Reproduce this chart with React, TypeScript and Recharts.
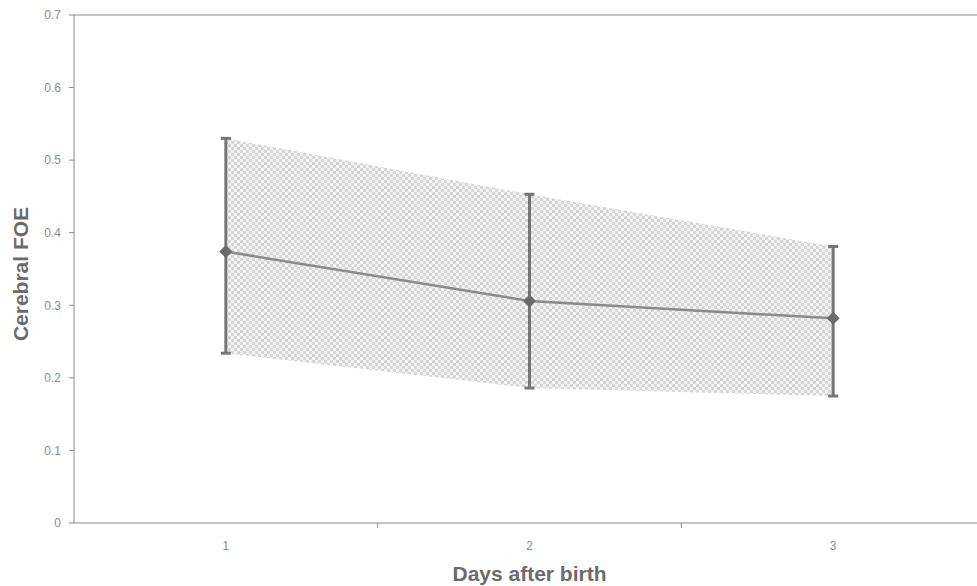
import React from "react";
import {
  Area,
  ComposedChart,
  ErrorBar,
  Label,
  Line,
  ReferenceLine,
  XAxis,
  YAxis,
} from "recharts";

const days = [1, 2, 3];
const meanFoe = [0.374, 0.306, 0.282];
const upperFoe = [0.53, 0.453, 0.381];
const lowerFoe = [0.234, 0.186, 0.175];
const yTicks = [0, 0.1, 0.2, 0.3, 0.4, 0.5, 0.6, 0.7];
const xTicks = [1, 1.5, 2, 2.5, 3];

const data = days.map((d, i) => ({
  day: d,
  mean: meanFoe[i],
  band: [lowerFoe[i], upperFoe[i]],
  err: [meanFoe[i] - lowerFoe[i], upperFoe[i] - meanFoe[i]],
}));

const FONT = '"Liberation Sans", Arial, sans-serif';
const AXIS = "#8a8a8a";

const XTick = (props: any) => {
  const { x, y, payload } = props;
  if (Number.isInteger(payload.value)) {
    return (
      <text x={x} y={y + 27} textAnchor="middle" fill="#8c8c8c" fontSize={12} fontFamily={FONT}>
        {payload.value}
      </text>
    );
  }
  return <line x1={x} y1={y} x2={x} y2={y + 5} stroke={AXIS} />;
};

const Diamond = (props: any) => {
  const { cx, cy } = props;
  if (cx == null || cy == null) return null;
  const r = 6.5;
  return (
    <polygon
      points={`${cx},${cy - r} ${cx + r},${cy} ${cx},${cy + r} ${cx - r},${cy}`}
      fill="#6a6a6a"
    />
  );
};

export default function App() {
  return (
    <div
      style={{
        position: "fixed",
        left: 0,
        top: 0,
        width: 977,
        height: 586,
        overflow: "hidden",
        background: "#fff",
      }}
    >
      <ComposedChart
        width={990}
        height={586}
        data={data}
        margin={{ top: 15, right: 5, bottom: 0, left: 0 }}
      >
        <defs>
          <pattern id="hatch" width="6" height="6" patternUnits="userSpaceOnUse">
            <rect width="6" height="6" fill="#f3f3f3" />
            <rect x="0" y="0" width="3" height="3" fill="#d6d6d6" />
            <rect x="3" y="3" width="3" height="3" fill="#d6d6d6" />
          </pattern>
        </defs>
        <XAxis
          type="number"
          dataKey="day"
          domain={[0.5, 3.5]}
          ticks={xTicks}
          height={63}
          stroke={AXIS}
          tickLine={false}
          tickSize={0}
          tickMargin={0}
          tick={<XTick />}
          interval={0}
        >
          <Label
            content={(p: any) => {
              const vb = p.viewBox;
              return (
                <text
                  x={vb.x + vb.width / 2}
                  y={581}
                  textAnchor="middle"
                  fill="#6b6b6b"
                  fontSize={21}
                  fontWeight="bold"
                  fontFamily={FONT}
                >
                  Days after birth
                </text>
              );
            }}
          />
        </XAxis>
        <YAxis
          type="number"
          domain={[0, 0.7]}
          ticks={yTicks}
          width={74}
          stroke={AXIS}
          tickSize={5}
          tickMargin={8}
          tick={{ fill: "#8c8c8c", fontSize: 12, fontFamily: FONT }}
          interval={0}
        >
          <Label
            content={(p: any) => {
              const vb = p.viewBox;
              const cy = vb.y + vb.height / 2 + 5;
              return (
                <text
                  x={28}
                  y={cy}
                  transform={`rotate(-90 28 ${cy})`}
                  textAnchor="middle"
                  fill="#6b6b6b"
                  fontSize={21}
                  fontWeight="bold"
                  fontFamily={FONT}
                >
                  Cerebral FOE
                </text>
              );
            }}
          />
        </YAxis>
        <ReferenceLine y={0.7} stroke={AXIS} />
        <Area
          type="linear"
          dataKey="band"
          stroke="none"
          fill="url(#hatch)"
          fillOpacity={1}
          isAnimationActive={false}
        />
        <Line
          type="linear"
          dataKey="mean"
          stroke="#8a8a8a"
          strokeWidth={2.5}
          dot={<Diamond />}
          activeDot={false}
          isAnimationActive={false}
        >
          <ErrorBar dataKey="err" width={5} stroke="#767676" strokeWidth={3} direction="y" />
        </Line>
      </ComposedChart>
    </div>
  );
}
